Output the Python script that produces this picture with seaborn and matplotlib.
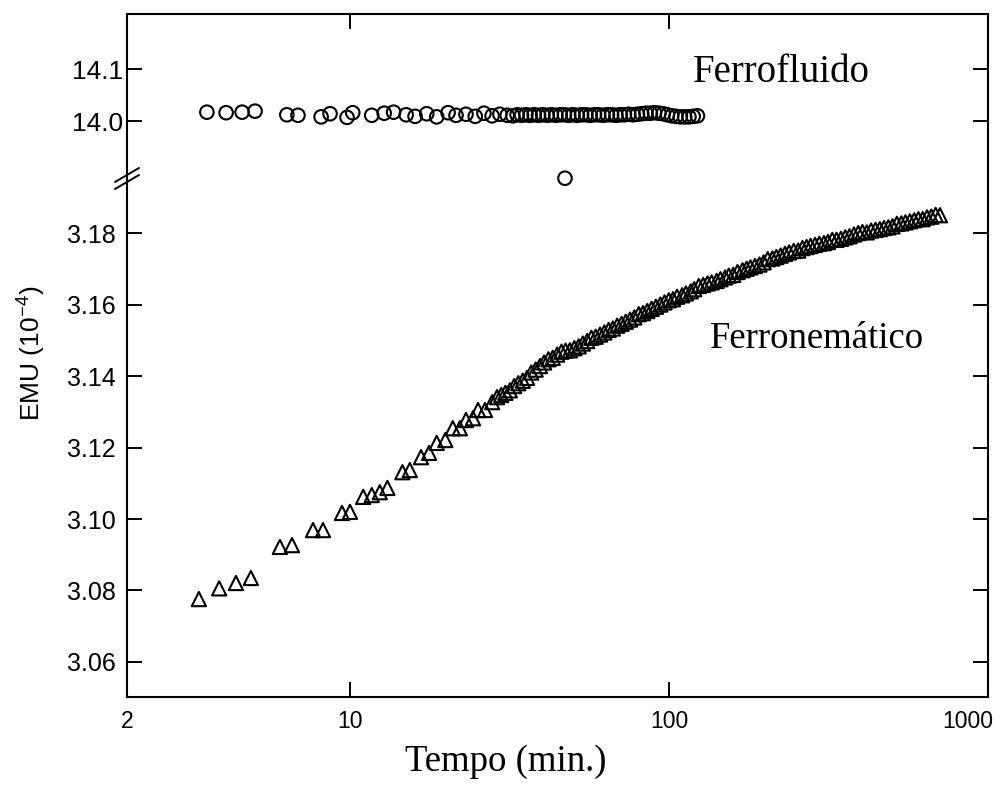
import matplotlib
matplotlib.use("Agg")
import matplotlib.pyplot as plt
from matplotlib.lines import Line2D
from matplotlib.transforms import ScaledTranslation
from matplotlib.ticker import FixedLocator, FixedFormatter, NullLocator
import seaborn as sns

# Ferrofluido: tempo (min) e momento magnético (10^-4 emu)
ff_tempo = [3.56, 4.09, 4.59, 5.04, 6.34, 6.87, 8.12, 8.66, 9.79, 10.2,
            11.7, 12.8, 13.7, 15.0, 16.0, 17.4, 18.7, 20.3, 21.5, 23.1,
            24.7, 26.3, 27.9, 29.5, 31.1,
            32.4, 33.4, 34.5, 35.6, 36.7, 37.8, 39.0, 40.2, 41.5, 42.8,
            44.2, 45.6, 47.0, 47.2, 48.5, 50.0, 51.6, 53.2, 54.9, 56.6, 58.4,
            60.2, 62.1, 64.1, 66.1, 68.2, 70.3, 72.5, 74.8, 77.2, 79.6,
            82.1, 84.7, 87.4, 90.1, 93.0, 95.9, 98.9, 102.0, 105.2, 108.5,
            112.0, 115.5, 119.1, 122.8]
ff_emu = [14.017, 14.016, 14.017, 14.019, 14.012, 14.011, 14.008, 14.014, 14.007, 14.016,
          14.011, 14.015, 14.017, 14.012, 14.009, 14.014, 14.008, 14.016, 14.011, 14.013,
          14.009, 14.015, 14.010, 14.013, 14.011,
          14.010, 14.012, 14.011, 14.012, 14.011, 14.012, 14.011, 14.012, 14.011, 14.012,
          14.011, 14.012, 14.012, 13.890, 14.011, 14.012, 14.011, 14.012, 14.012, 14.011, 14.012,
          14.012, 14.011, 14.012, 14.012, 14.011, 14.012, 14.012, 14.013, 14.012, 14.013,
          14.014, 14.015, 14.015, 14.016, 14.015, 14.014, 14.012, 14.010, 14.009, 14.008,
          14.008, 14.008, 14.009, 14.010]

# Ferronemático: tempo (min) e momento magnético (10^-4 emu)
fn_tempo = [3.36, 3.89, 4.39, 4.89, 6.03, 6.58, 7.66, 8.23, 9.44, 10.0,
            11.0, 11.7, 12.4, 13.1, 14.6, 15.4, 16.7, 17.7, 18.7, 19.9,
            21.0, 22.1, 23.1, 24.3, 25.2, 26.5, 27.9, 28.9,
            29.8, 30.7, 31.7, 32.7, 33.7, 34.8, 35.9, 37.0, 38.2, 39.4,
            40.6, 41.9, 43.2, 44.6, 46.0, 47.4, 48.9, 50.5, 52.1, 53.7,
            55.4, 57.1, 58.9, 60.8, 62.7, 64.7, 66.7, 68.8, 71.0, 73.2,
            75.5, 77.9, 80.4, 82.9, 85.5, 88.2, 91.0, 93.9, 96.8, 99.9,
            103, 106, 110, 113, 117, 120, 124, 128, 132, 136,
            141, 145, 150, 154, 159, 164, 170, 175, 180, 186,
            192, 198, 204, 211, 217, 224, 231, 238, 246, 254,
            262, 270, 278, 287, 296, 306, 315, 325, 335, 346,
            357, 368, 380, 392, 404, 417, 430, 444, 458, 472,
            487, 502, 518, 535, 551, 569, 587, 605, 624, 644,
            664, 685, 707]
fn_emu = [3.0776, 3.0806, 3.0821, 3.0835, 3.0922, 3.0927, 3.0969, 3.0969, 3.1017, 3.1020,
          3.1062, 3.1067, 3.1075, 3.1087, 3.1131, 3.1137, 3.1173, 3.1185, 3.1213, 3.1221,
          3.1254, 3.1254, 3.1277, 3.1282, 3.1305, 3.1305, 3.1327, 3.1341,
          3.1347, 3.1353, 3.1360, 3.1372, 3.1380, 3.1387, 3.1395, 3.1410, 3.1418, 3.1428,
          3.1438, 3.1447, 3.1451, 3.1460, 3.1468, 3.1471, 3.1472, 3.1478, 3.1483, 3.1491,
          3.1498, 3.1507, 3.1510, 3.1516, 3.1522, 3.1529, 3.1533, 3.1541, 3.1546, 3.1552,
          3.1558, 3.1564, 3.1573, 3.1576, 3.1582, 3.1588, 3.1594, 3.1600, 3.1606, 3.1612,
          3.1615, 3.1622, 3.1626, 3.1631, 3.1637, 3.1643, 3.1652, 3.1655, 3.1659, 3.1662,
          3.1666, 3.1671, 3.1676, 3.1681, 3.1683, 3.1691, 3.1696, 3.1700, 3.1704, 3.1708,
          3.1712, 3.1718, 3.1727, 3.1729, 3.1733, 3.1737, 3.1742, 3.1746, 3.1750, 3.1751,
          3.1758, 3.1761, 3.1764, 3.1767, 3.1770, 3.1772, 3.1775, 3.1781, 3.1781, 3.1784,
          3.1788, 3.1791, 3.1796, 3.1800, 3.1803, 3.1802, 3.1807, 3.1809, 3.1811, 3.1814,
          3.1816, 3.1819, 3.1826, 3.1827, 3.1830, 3.1833, 3.1836, 3.1839, 3.1839, 3.1844,
          3.1846, 3.1851, 3.1850]

x_ticks = [2, 10, 100, 1000]
x_ticklabels = ["2", "10", "100", "1000"]
y_ticks_top = [14.0, 14.1]
y_ticks_bottom = [3.06, 3.08, 3.10, 3.12, 3.14, 3.16, 3.18]

sns.set_theme(style="ticks")
plt.rcParams["font.family"] = ["Liberation Sans", "DejaVu Sans"]
plt.rcParams["mathtext.fontset"] = "custom"
plt.rcParams["mathtext.rm"] = "Liberation Sans"
plt.rcParams["mathtext.it"] = "Liberation Sans:italic"
for key in ("text.color", "axes.labelcolor", "xtick.color", "ytick.color",
            "xtick.labelcolor", "ytick.labelcolor", "axes.edgecolor"):
    plt.rcParams[key] = "black"

W, H = 994, 785
fig = plt.figure(figsize=(W / 100, H / 100), dpi=100, facecolor="white")


def box(x0, y0, x1, y1):
    return [x0 / W, 1 - y1 / H, (x1 - x0) / W, (y1 - y0) / H]


ax_top = fig.add_axes(box(127, 14, 988, 192))
ax_bot = fig.add_axes(box(127, 192, 988, 697))

spine_lw = 1.5
for ax in (ax_top, ax_bot):
    ax.set_facecolor("white")
    ax.set_xscale("log")
    ax.set_xlim(2, 1000)
    for s in ax.spines.values():
        s.set_linewidth(spine_lw)
        s.set_color("black")
    ax.xaxis.set_minor_locator(NullLocator())
    ax.yaxis.set_minor_locator(NullLocator())
    ax.tick_params(axis="both", which="major", direction="in", length=10.5,
                   width=1.4, color="black", labelcolor="black",
                   left=True, right=True)

ax_top.spines["bottom"].set_visible(False)
ax_bot.spines["top"].set_visible(False)

# upper panel: ferrofluid
sns.scatterplot(x=ff_tempo, y=ff_emu, ax=ax_top, marker="o", s=95,
                facecolors="none", edgecolors="black", linewidths=1.5,
                legend=False, zorder=3)
ax_top.set_ylim(13.8635, 14.2058)
ax_top.yaxis.set_major_locator(FixedLocator(y_ticks_top))
ax_top.yaxis.set_major_formatter(FixedFormatter(["14.0", "14.1"]))
ax_top.xaxis.set_major_locator(FixedLocator([10, 100]))
ax_top.tick_params(axis="x", top=True, bottom=False, labelbottom=False,
                   labeltop=False)
ax_top.tick_params(axis="y", labelsize=19, pad=3)

# lower panel: ferronematic
sns.scatterplot(x=fn_tempo, y=fn_emu, ax=ax_bot, marker="^", s=105,
                facecolors="none", edgecolors="black", linewidths=1.5,
                legend=False, zorder=3)
ax_bot.set_ylim(3.0502, 3.1915)
ax_bot.yaxis.set_major_locator(FixedLocator(y_ticks_bottom))
ax_bot.yaxis.set_major_formatter(FixedFormatter([f"{v:.2f}" for v in y_ticks_bottom]))
ax_bot.xaxis.set_major_locator(FixedLocator(x_ticks))
ax_bot.xaxis.set_major_formatter(FixedFormatter(x_ticklabels))
ax_bot.tick_params(axis="x", top=False, bottom=True, labelsize=16.5, pad=9)
ax_bot.tick_params(axis="y", labelsize=18, pad=8)

ax_top.set_xlabel("")
ax_top.set_ylabel("")
ax_bot.set_xlabel("Tempo (min.)", fontfamily="Liberation Serif", fontsize=26.5,
                  color="black")
ax_bot.xaxis.label.set_verticalalignment("top")
ax_bot.xaxis.set_label_coords(0.4396, -0.093)
ax_bot.set_ylabel(r"EMU (10$^{\mathregular{-4}}$)", fontsize=19, color="black")
ax_bot.yaxis.set_label_coords(-0.092, 0.681)

ax_top.text(0.657, 0.618, "Ferrofluido", transform=ax_top.transAxes,
            ha="left", va="baseline", fontfamily="Liberation Serif", fontsize=28,
            color="black")
ax_bot.text(0.677, 0.691, "Ferronemático", transform=ax_bot.transAxes,
            ha="left", va="baseline", fontfamily="Liberation Serif", fontsize=26.5,
            color="black")

# axis-break marks on the left spine
for yc in (175, 182):
    fig.add_artist(Line2D([115 / W, 139 / W], [1 - (yc + 7) / H, 1 - (yc - 7) / H],
                          transform=fig.transFigure, color="black", lw=1.4))

# keep the last tick label inside the canvas
fig.canvas.draw()
last = ax_bot.get_xticklabels()[-1]
last.set_transform(last.get_transform() + ScaledTranslation(-0.2, 0, fig.dpi_scale_trans))

fig.savefig("out.png", dpi=100, facecolor="white")
